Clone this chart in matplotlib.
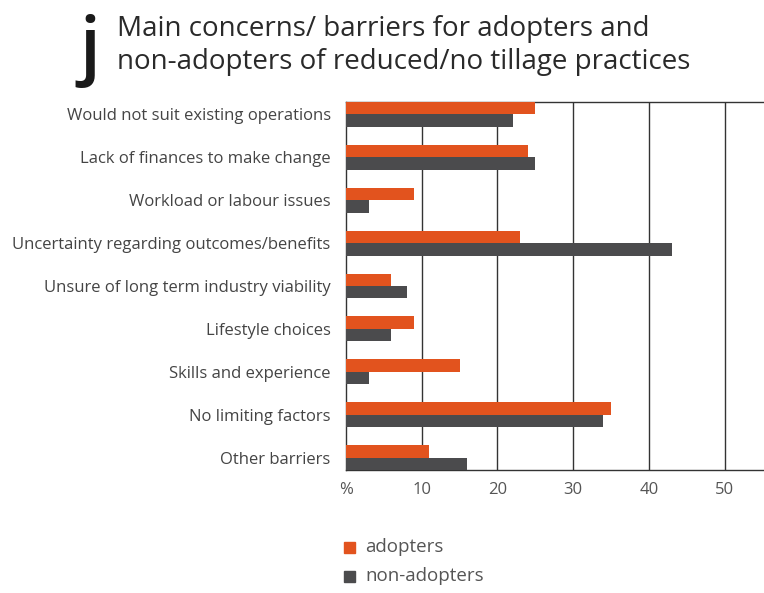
import matplotlib
matplotlib.use("Agg")
import matplotlib.pyplot as plt
import numpy as np

categories = [
    "Would not suit existing operations",
    "Lack of finances to make change",
    "Workload or labour issues",
    "Uncertainty regarding outcomes/benefits",
    "Unsure of long term industry viability",
    "Lifestyle choices",
    "Skills and experience",
    "No limiting factors",
    "Other barriers",
]
adopters = [25, 24, 9, 23, 6, 9, 15, 35, 11]
non_adopters = [22, 25, 3, 43, 8, 6, 3, 34, 16]
xtick_values = [0, 10, 20, 30, 40, 50]
xtick_labels = ["%", "10", "20", "30", "40", "50"]
series_names = ["adopters", "non-adopters"]

ORANGE = "#E2531E"
GREY = "#4B4B4D"
TEXT = "#444444"

plt.rcParams['font.family'] = ['Open Sans', 'DejaVu Sans']

fig = plt.figure(figsize=(7.64, 5.93), dpi=100)
ax = fig.add_axes([346/764, 1 - 470/593, 1 - 346/764, (470 - 102)/593])

y = np.arange(len(categories))
h = 0.29
ax.barh(y - h/2, adopters, height=h, color=ORANGE, zorder=3)
ax.barh(y + h/2, non_adopters, height=h, color=GREY, zorder=3)

ax.set_xlim(0, 55.2)
ax.set_ylim(len(categories) - 1 + h, -h)
ax.set_xticks(xtick_values)
ax.set_xticklabels(xtick_labels, fontsize=12, color="#555555")
ax.set_yticks(y)
ax.set_yticklabels(categories, fontsize=12, color=TEXT)
ax.tick_params(axis='both', length=0)
ax.tick_params(axis='y', pad=11)
ax.tick_params(axis='x', pad=9)
for v in xtick_values[1:]:
    ax.axvline(v, color="#333333", lw=1.0, zorder=1)
for s in ["left", "bottom", "top"]:
    ax.spines[s].set_color("#333333")
    ax.spines[s].set_linewidth(1.0)
ax.spines["right"].set_visible(False)

# title
fig.text(79/764, 1 - 70/593, "j", fontsize=54, fontweight=600, color="#1a1a1a",
         va="baseline", ha="left")
fig.text(117/764, 1 - 36/593, "Main concerns/ barriers for adopters and", fontsize=20,
         color="#2a2a2a", va="baseline", ha="left")
fig.text(117/764, 1 - 69/593, "non-adopters of reduced/no tillage practices", fontsize=20,
         color="#2a2a2a", va="baseline", ha="left")

# legend
fig.patches.append(plt.Rectangle((344/764, 1 - 553/593), 11/764, 11/593, transform=fig.transFigure,
                                 color=ORANGE, figure=fig))
fig.patches.append(plt.Rectangle((344/764, 1 - 582/593), 11/764, 11/593, transform=fig.transFigure,
                                 color=GREY, figure=fig))
fig.text(365/764, 1 - 547/593, series_names[0], fontsize=13.5, color="#555555", va="center")
fig.text(365/764, 1 - 576/593, series_names[1], fontsize=13.5, color="#555555", va="center")

fig.savefig("out.png", dpi=100)
